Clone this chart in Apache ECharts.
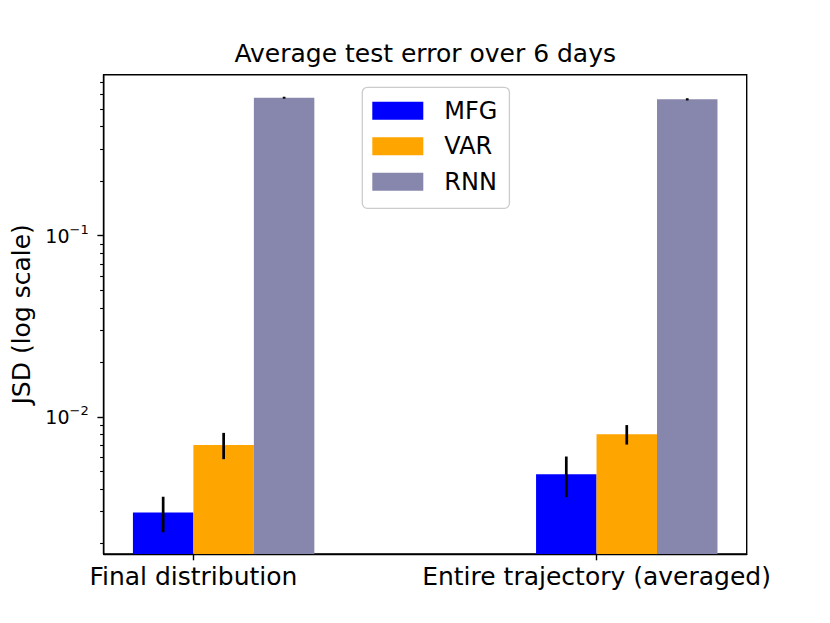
<!DOCTYPE html>
<html>
<head>
<meta charset="utf-8">
<script src="https://cdn.jsdelivr.net/npm/echarts@6/dist/echarts.min.js"></script>
<style>
  html, body { margin: 0; padding: 0; background: #ffffff; }
  #chart { width: 830px; height: 623px; }
</style>
</head>
<body>
<div id="chart"></div>
<script>
// ---- data ----
const categories = ['Final distribution', 'Entire trajectory (averaged)'];
const seriesNames = ['MFG', 'VAR', 'RNN'];
const mfgValues = [0.00297, 0.00483];
const mfgErrors = [0.00066, 0.00122];
const varValues = [0.00701, 0.00803];
const varErrors = [0.00116, 0.00099];
const rnnValues = [0.577, 0.565];
const rnnErrors = [0.007, 0.008];
const yMajorTicks = [0.01, 0.1];
const yMinorTicks = [0.002, 0.003, 0.004, 0.005, 0.006, 0.007, 0.008, 0.009,
                     0.02, 0.03, 0.04, 0.05, 0.06, 0.07, 0.08, 0.09,
                     0.2, 0.3, 0.4, 0.5, 0.6, 0.7];
const categoryTicks = [0, 1];

// ---- layout / style ----
const FONT = 'DejaVu Sans';
const yMin = 0.001754, yMax = 0.7727;
const xMin = -0.2225, xMax = 1.3725;
const barW = 0.15;
const colors = ['#0000ff', '#ffa500', '#8787ad'];
const offsets = [-0.15, 0, 0.15];
const valueSets = [mfgValues, varValues, rnnValues];
const errorSets = [mfgErrors, varErrors, rnnErrors];

function barSeries(k) {
  return {
    name: seriesNames[k],
    type: 'custom',
    itemStyle: { color: colors[k] },
    z: 2,
    data: valueSets[k].map((v, i) => [i, v]),
    renderItem: function (params, api) {
      const i = api.value(0), v = api.value(1);
      const x0 = i + offsets[k];
      const p1 = api.coord([x0, v]);
      const p2 = api.coord([x0 + barW, yMin]);
      return {
        type: 'rect',
        shape: { x: p1[0], y: p1[1], width: p2[0] - p1[0], height: p2[1] - p1[1] },
        style: { fill: colors[k] }
      };
    }
  };
}

function errSeries(k) {
  return {
    type: 'custom',
    z: 5,
    silent: true,
    data: valueSets[k].map((v, i) => [i, v - errorSets[k][i], v + errorSets[k][i]]),
    renderItem: function (params, api) {
      const xc = api.value(0) + offsets[k] + barW / 2;
      const a = api.coord([xc, api.value(1)]);
      const b = api.coord([xc, api.value(2)]);
      return {
        type: 'line',
        shape: { x1: a[0], y1: a[1], x2: b[0], y2: b[1] },
        style: { stroke: '#000000', lineWidth: 2.7 }
      };
    }
  };
}

function powLabel(v) {
  const e = Math.round(Math.log10(v));
  if (Math.abs(Math.log10(v) - e) > 1e-6) return '';
  return '{b|10}{s|\u2212' + Math.abs(e) + '}';
}

const chart = echarts.init(document.getElementById('chart'), null, { renderer: 'svg' });
chart.setOption({
  animation: false,
  backgroundColor: '#ffffff',
  textStyle: { fontFamily: FONT },
  title: {
    text: 'Average test error over 6 days',
    left: 425.2,
    textAlign: 'center',
    top: 41,
    padding: 0,
    textStyle: { fontFamily: FONT, fontSize: 25, fontWeight: 'normal', color: '#000000' }
  },
  legend: {
    data: seriesNames,
    orient: 'vertical',
    left: 362.3,
    top: 87.3,
    padding: [11.5, 12, 14.5, 10],
    itemWidth: 51,
    itemHeight: 18,
    itemGap: 11.5,
    icon: 'rect',
    backgroundColor: 'rgba(255,255,255,0.8)',
    borderColor: '#cccccc',
    borderWidth: 1.3,
    borderRadius: 5,
    textStyle: { fontFamily: FONT, fontSize: 24, color: '#000000', padding: [0, 0, 0, 16], lineHeight: 18 }
  },
  grid: {
    left: 103.7, right: 83.3, top: 74.7, bottom: 69,
    show: true, borderColor: '#000000', borderWidth: 1.4, backgroundColor: 'transparent'
  },
  xAxis: {
    type: 'value',
    min: xMin,
    max: xMax,
    splitLine: { show: false },
    axisLine: { show: true, onZero: false, lineStyle: { color: '#000000', width: 1.4 } },
    axisTick: { show: true, customValues: categoryTicks, length: 6.3, lineStyle: { color: '#000000', width: 1.4 } },
    axisLabel: {
      show: true,
      customValues: categoryTicks,
      formatter: v => categories[Math.round(v)],
      fontFamily: FONT, fontSize: 25, color: '#000000', margin: 10
    }
  },
  yAxis: [{
    type: 'log',
    min: yMin,
    max: yMax,
    splitLine: { show: false },
    axisLine: { show: true, onZero: false, lineStyle: { color: '#000000', width: 1.4 } },
    axisTick: { show: true, customValues: yMajorTicks, length: 6.3, lineStyle: { color: '#000000', width: 1.4 } },
    axisLabel: {
      show: true,
      customValues: yMajorTicks,
      formatter: powLabel,
      margin: 15,
      color: '#000000',
      rich: {
        b: { fontFamily: FONT, fontSize: 19, lineHeight: 25, color: '#000000' },
        s: { fontFamily: FONT, fontSize: 13, lineHeight: 13, verticalAlign: 'top', color: '#000000' }
      }
    },
    name: 'JSD (log scale)',
    nameLocation: 'middle',
    nameGap: 64,
    nameTextStyle: { fontFamily: FONT, fontSize: 25, color: '#000000' }
  }, {
    type: 'log',
    min: yMin,
    max: yMax,
    position: 'left',
    splitLine: { show: false },
    axisLine: { show: false, onZero: false },
    axisTick: { show: true, customValues: yMinorTicks, length: 3.6, lineStyle: { color: '#000000', width: 1.1 } },
    axisLabel: { show: false }
  }],
  series: [barSeries(0), barSeries(1), barSeries(2), errSeries(0), errSeries(1), errSeries(2)]
});
</script>
</body>
</html>
